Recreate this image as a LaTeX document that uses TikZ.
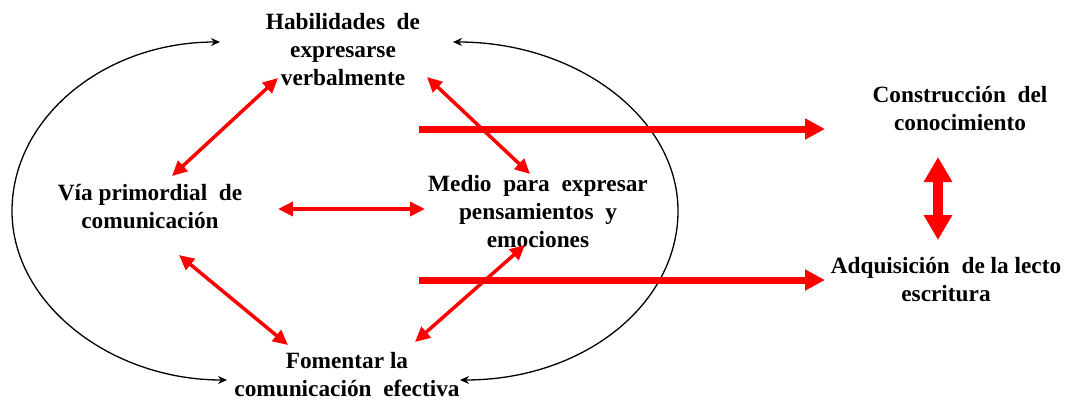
\documentclass[tikz,border=0pt]{standalone}
\usepackage{fontspec}
\setmainfont{Liberation Serif}
\usetikzlibrary{arrows.meta}
\newcommand{\wsp}{\hspace{0.5em}}
\definecolor{rd}{RGB}{255,0,0}
\tikzset{
  lbl/.style={align=center, font=\bfseries\fontsize{23.3}{28}\selectfont, inner sep=0pt},
  thinred/.style={draw=rd, line width=3.5pt, {Triangle[length=15pt,width=14pt]}-{Triangle[length=15pt,width=14pt]}},
  thickred/.style={draw=rd, line width=7pt, -{Triangle[length=20pt,width=20pt]}},
  vertred/.style={draw=rd, line width=10pt, {Triangle[length=25pt,width=27pt]}-{Triangle[length=25pt,width=27pt]}},
  blackarc/.style={draw=black, line width=1.3pt, {Stealth[length=9pt,width=8pt]}-{Stealth[length=9pt,width=8pt]}}
}
\begin{document}
\begin{tikzpicture}[x=1pt,y=-1pt]
\useasboundingbox (0,0) rectangle (1067,402);
\node[lbl] (hab) at (343,50) {Habilidades\wsp de\\expresarse\\verbalmente};
\node[lbl] (via) at (150,207) {Vía primordial\wsp de\\comunicación};
\node[lbl] (med) at (538,212) {Medio\wsp para\wsp expresar\\pensamientos\wsp y\\emociones};
\node[lbl] (fom) at (347,375) {Fomentar la\\comunicación\wsp efectiva};
\node[lbl] (con) at (960,109) {Construcción\wsp del\\conocimiento};
\node[lbl] (adq) at (946,280) {Adquisición\wsp de la lecto\\escritura};

% black arcs
\draw[blackarc] ([shift={(-123,-8)}]hab.center) .. controls (104,42) and (12,118) .. (12,211)
  .. controls (12,304) and (111,380) .. ([shift={(-120,5)}]fom.center);
\draw[blackarc] ([shift={(110,-8)}]hab.center) .. controls (577,42) and (678,118) .. (678,211)
  .. controls (678,304) and (584,380) .. ([shift={(113,5)}]fom.center);

% thin red double arrows
\draw[thinred] ([shift={(-65,28)}]hab.center) -- ([shift={(22,-31)}]via.center);
\draw[thinred] ([shift={(84,27)}]hab.center) -- ([shift={(-8,-38)}]med.center);
\draw[thinred] ([shift={(128,2)}]via.center) -- ([shift={(-113,-3)}]med.center);
\draw[thinred] ([shift={(29,48)}]via.center) -- ([shift={(-59,-30)}]fom.center);
\draw[thinred] ([shift={(-13,33)}]med.center) -- ([shift={(68,-33)}]fom.center);

% thick red arrows
\draw[thickred] ([shift={(76,79)}]hab.center) -- ([shift={(-135,20)}]con.center);
\draw[thickred] ([shift={(-119,68)}]med.center) -- ([shift={(-121,0)}]adq.center);
\draw[vertred] ([shift={(-22,48)}]con.center) -- ([shift={(-8,-40)}]adq.center);
\end{tikzpicture}
\end{document}
